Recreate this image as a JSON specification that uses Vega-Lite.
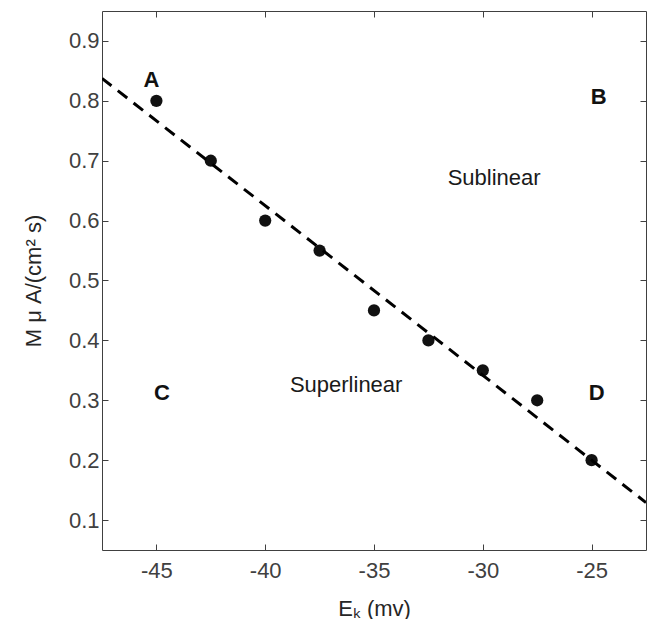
{
  "$schema": "https://vega.github.io/schema/vega-lite/v6.json",
  "width": 544,
  "height": 539,
  "autosize": "none",
  "padding": {"left": 102, "top": 11, "right": 2, "bottom": 69},
  "background": "white",
  "config": {
    "view": {"stroke": "#404040", "strokeWidth": 1},
    "axis": {
      "grid": false,
      "domain": false,
      "tickSize": -6,
      "tickColor": "#404040",
      "tickWidth": 1,
      "labelFont": "Liberation Sans",
      "labelFontSize": 22,
      "labelColor": "#404040",
      "titleFont": "Liberation Sans",
      "titleFontSize": 22,
      "titleFontWeight": "normal",
      "titleColor": "#262626"
    }
  },
  "datasets": {
    "pts": [
      {"x": -45, "y": 0.8},
      {"x": -42.5, "y": 0.7},
      {"x": -40, "y": 0.6},
      {"x": -37.5, "y": 0.55},
      {"x": -35, "y": 0.45},
      {"x": -32.5, "y": 0.4},
      {"x": -30, "y": 0.35},
      {"x": -27.5, "y": 0.3},
      {"x": -25, "y": 0.2}
    ],
    "fit": [
      {"x": -47.5, "y": 0.8375},
      {"x": -22.5, "y": 0.1292}
    ],
    "bold": [
      {"x": -45.23, "y": 0.834, "t": "A"},
      {"x": -24.67, "y": 0.807, "t": "B"},
      {"x": -44.74, "y": 0.3115, "t": "C"},
      {"x": -24.77, "y": 0.3115, "t": "D"}
    ],
    "plain": [
      {"x": -29.48, "y": 0.671, "t": "Sublinear"},
      {"x": -36.28, "y": 0.325, "t": "Superlinear"}
    ]
  },
  "resolve": {"axis": {"x": "independent", "y": "independent"}},
  "layer": [
    {
      "data": {"name": "pts"},
      "mark": {"type": "point", "filled": true, "size": 150, "color": "#111111", "opacity": 1},
      "encoding": {
        "x": {
          "field": "x", "type": "quantitative",
          "scale": {"domain": [-47.5, -22.5], "nice": false, "zero": false},
          "axis": {"orient": "bottom", "values": [-45, -40, -35, -30, -25], "labelExpr": "'-' + abs(datum.value)", "labelPadding": 16, "title": "Eₖ (mv)", "titlePadding": 17}
        },
        "y": {
          "field": "y", "type": "quantitative",
          "scale": {"domain": [0.05, 0.95], "nice": false, "zero": false},
          "axis": {"orient": "left", "values": [0.1, 0.2, 0.3, 0.4, 0.5, 0.6, 0.7, 0.8, 0.9], "format": ".1f", "labelPadding": 9, "title": "M μ A/(cm² s)", "titlePadding": 23}
        }
      }
    },
    {
      "data": {"name": "fit"},
      "mark": {"type": "line", "color": "#000000", "strokeWidth": 3, "strokeDash": [12, 8], "clip": true},
      "encoding": {
        "x": {"field": "x", "type": "quantitative", "axis": {"orient": "top", "values": [-45, -40, -35, -30, -25], "labels": false, "title": null}},
        "y": {"field": "y", "type": "quantitative", "axis": {"orient": "right", "values": [0.1, 0.2, 0.3, 0.4, 0.5, 0.6, 0.7, 0.8, 0.9], "labels": false, "title": null}}
      }
    },
    {
      "data": {"name": "bold"},
      "mark": {"type": "text", "font": "Liberation Sans", "fontSize": 22, "fontWeight": "bold", "color": "#111111", "align": "center", "baseline": "middle"},
      "encoding": {
        "x": {"field": "x", "type": "quantitative", "axis": null},
        "y": {"field": "y", "type": "quantitative", "axis": null},
        "text": {"field": "t"}
      }
    },
    {
      "data": {"name": "plain"},
      "mark": {"type": "text", "font": "Liberation Sans", "fontSize": 22, "color": "#1a1a1a", "align": "center", "baseline": "middle"},
      "encoding": {
        "x": {"field": "x", "type": "quantitative", "axis": null},
        "y": {"field": "y", "type": "quantitative", "axis": null},
        "text": {"field": "t"}
      }
    }
  ]
}
